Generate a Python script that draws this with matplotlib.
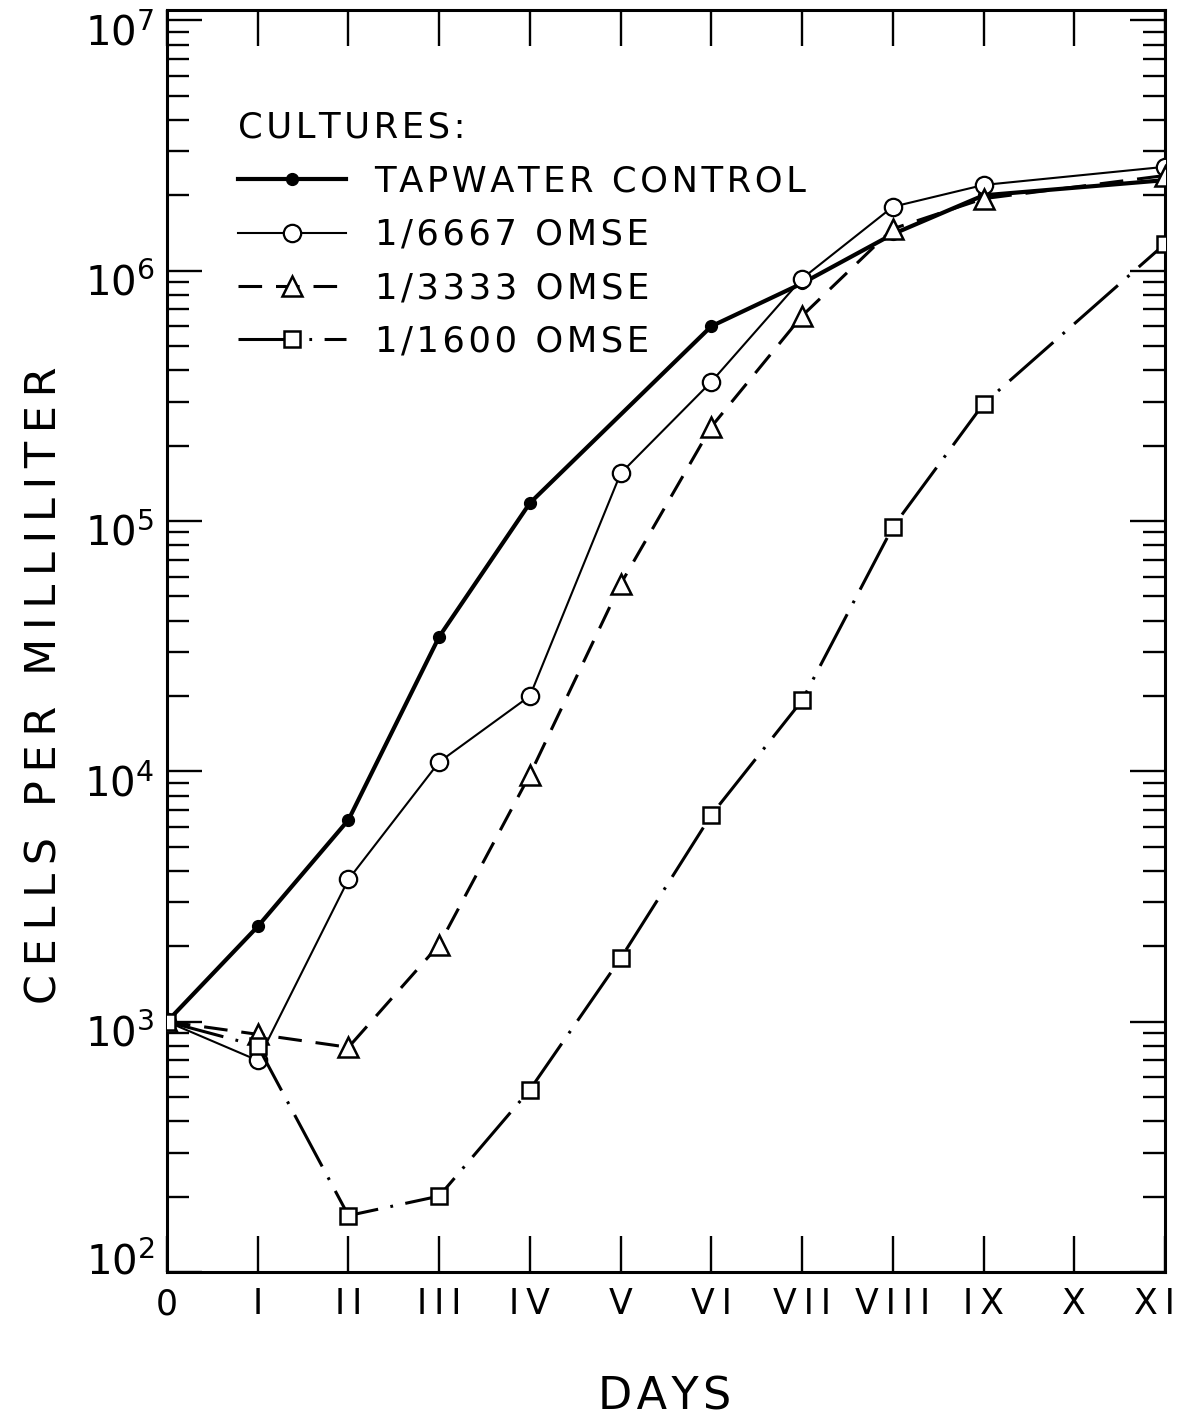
import matplotlib
matplotlib.use("Agg")
import matplotlib.pyplot as plt
import matplotlib.transforms as mtransforms
from matplotlib.ticker import LogLocator, NullFormatter, FixedLocator, FixedFormatter

plt.rcParams['font.family'] = ['DejaVu Sans']
plt.rcParams['mathtext.fontset'] = 'dejavusans'
plt.rcParams['lines.scale_dashes'] = False

# ---------------- data ----------------
day_ticks = list(range(12))
day_labels = ["0", "I", "II", "III", "IV", "V", "VI", "VII", "VIII", "IX", "X", "XI"]

tap_days = [0, 1, 2, 3, 4, 6, 7, 8, 9, 11]
tap_vals = [1000, 2400, 6400, 34500, 118000, 600000, 890000, 1.40e6, 2.0e6, 2.3e6]

omse6667_days = [0, 1, 2, 3, 4, 5, 6, 7, 8, 9, 11]
omse6667_vals = [1000, 700, 3700, 10900, 20000, 155000, 360000, 930000, 1.8e6, 2.2e6, 2.6e6]

omse3333_days = [0, 1, 2, 3, 4, 5, 6, 7, 8, 9, 11]
omse3333_vals = [1000, 890, 790, 2030, 9700, 56000, 238000, 660000, 1.47e6, 1.94e6, 2.4e6]

omse1600_days = [0, 1, 2, 3, 4, 5, 6, 7, 8, 9, 11]
omse1600_vals = [1000, 800, 168, 201, 535, 1790, 6700, 19200, 94600, 294000, 1.28e6]

series_labels = ["TAPWATER CONTROL", "1/6667 OMSE", "1/3333 OMSE", "1/1600 OMSE"]
legend_title = "CULTURES:"
y_label = "CELLS PER MILLILITER"
x_label = "DAYS"
y_ticks = [1e2, 1e3, 1e4, 1e5, 1e6, 1e7]
y_tick_labels = [r"$10^{2}$", r"$10^{3}$", r"$10^{4}$", r"$10^{5}$", r"$10^{6}$", r"$10^{7}$"]

HS = "\u200a"   # hair space for letter tracking
TS = "\u2009"   # thin space


def spaced(s, gap=HS):
    return gap.join(s)


W, H = 1178, 1420
fig = plt.figure(figsize=(W / 100, H / 100), dpi=100)
ax = fig.add_axes([167 / W, 148 / H, 998 / W, 1262 / H])

ax.plot(tap_days, tap_vals, color="black", lw=3.0, marker="o", ms=8.5,
        mfc="black", mec="black", zorder=3)
ax.plot(omse6667_days, omse6667_vals, color="black", lw=1.5, marker="o", ms=12.5,
        mfc="white", mec="black", mew=1.6, zorder=4)
ax.plot(omse3333_days, omse3333_vals, color="black", lw=2.2, marker="^", ms=14,
        mfc="white", mec="black", mew=1.8, dashes=(17, 10), zorder=5)
ax.plot(omse1600_days, omse1600_vals, color="black", lw=2.2, marker="s", ms=12,
        mfc="white", mec="black", mew=1.8, dashes=(42, 9, 2, 9), zorder=6)

ax.set_yscale("log")
ax.set_ylim(1e2, 1.1e7)
ax.set_xlim(0, 11)

ax.xaxis.set_major_locator(FixedLocator(day_ticks))
ax.xaxis.set_major_formatter(FixedFormatter([spaced(l, TS) for l in day_labels]))
ax.yaxis.set_major_locator(FixedLocator(y_ticks))
ax.yaxis.set_major_formatter(FixedFormatter(y_tick_labels))
ax.yaxis.set_minor_locator(LogLocator(base=10, subs=range(2, 10), numticks=20))
ax.yaxis.set_minor_formatter(NullFormatter())

for s in ax.spines.values():
    s.set_linewidth(2.2)

ax.tick_params(axis="x", which="major", direction="in", length=26, width=1.7,
               top=True, bottom=True, labelsize=25, pad=11)
ax.tick_params(axis="y", which="major", direction="in", length=25, width=1.7,
               left=True, right=True, labelsize=29, pad=9)
ax.tick_params(axis="y", which="minor", direction="in", length=16, width=1.7,
               left=True, right=True)

# hand-lettered look: nudge the y labels (10^2 sits higher, others a bit lower)
for i, tick in enumerate(ax.yaxis.get_major_ticks()):
    dy = 14 if i == 0 else -9
    off = mtransforms.ScaledTranslation(0, dy / 100, fig.dpi_scale_trans)
    tick.label1.set_transform(tick.label1.get_transform() + off)

# keep the last day label inside the figure
xt = ax.xaxis.get_major_ticks()[-1]
xt.label1.set_horizontalalignment("right")
xt.label1.set_transform(xt.label1.get_transform() +
                        mtransforms.ScaledTranslation(10 / 100, 0, fig.dpi_scale_trans))

handles = ax.get_lines()
fs = 25.5
leg = ax.legend(handles, [spaced(l) for l in series_labels],
                title=spaced(legend_title), loc="upper left",
                bbox_to_anchor=(0.071, 0.92), frameon=False, fontsize=fs,
                title_fontsize=fs, handlelength=78 / fs, handletextpad=0.8,
                labelspacing=0.55, borderpad=0, borderaxespad=0, numpoints=1)
leg._legend_box.align = "left"

fig.text(45 / W, 1 - 685 / H, spaced(y_label, TS), rotation=90, ha="center",
         va="center", fontsize=31)
fig.text(665 / W, 1 - 1397 / H, spaced(x_label, HS), ha="center", va="center",
         fontsize=32)

fig.savefig("out.png", dpi=100)
